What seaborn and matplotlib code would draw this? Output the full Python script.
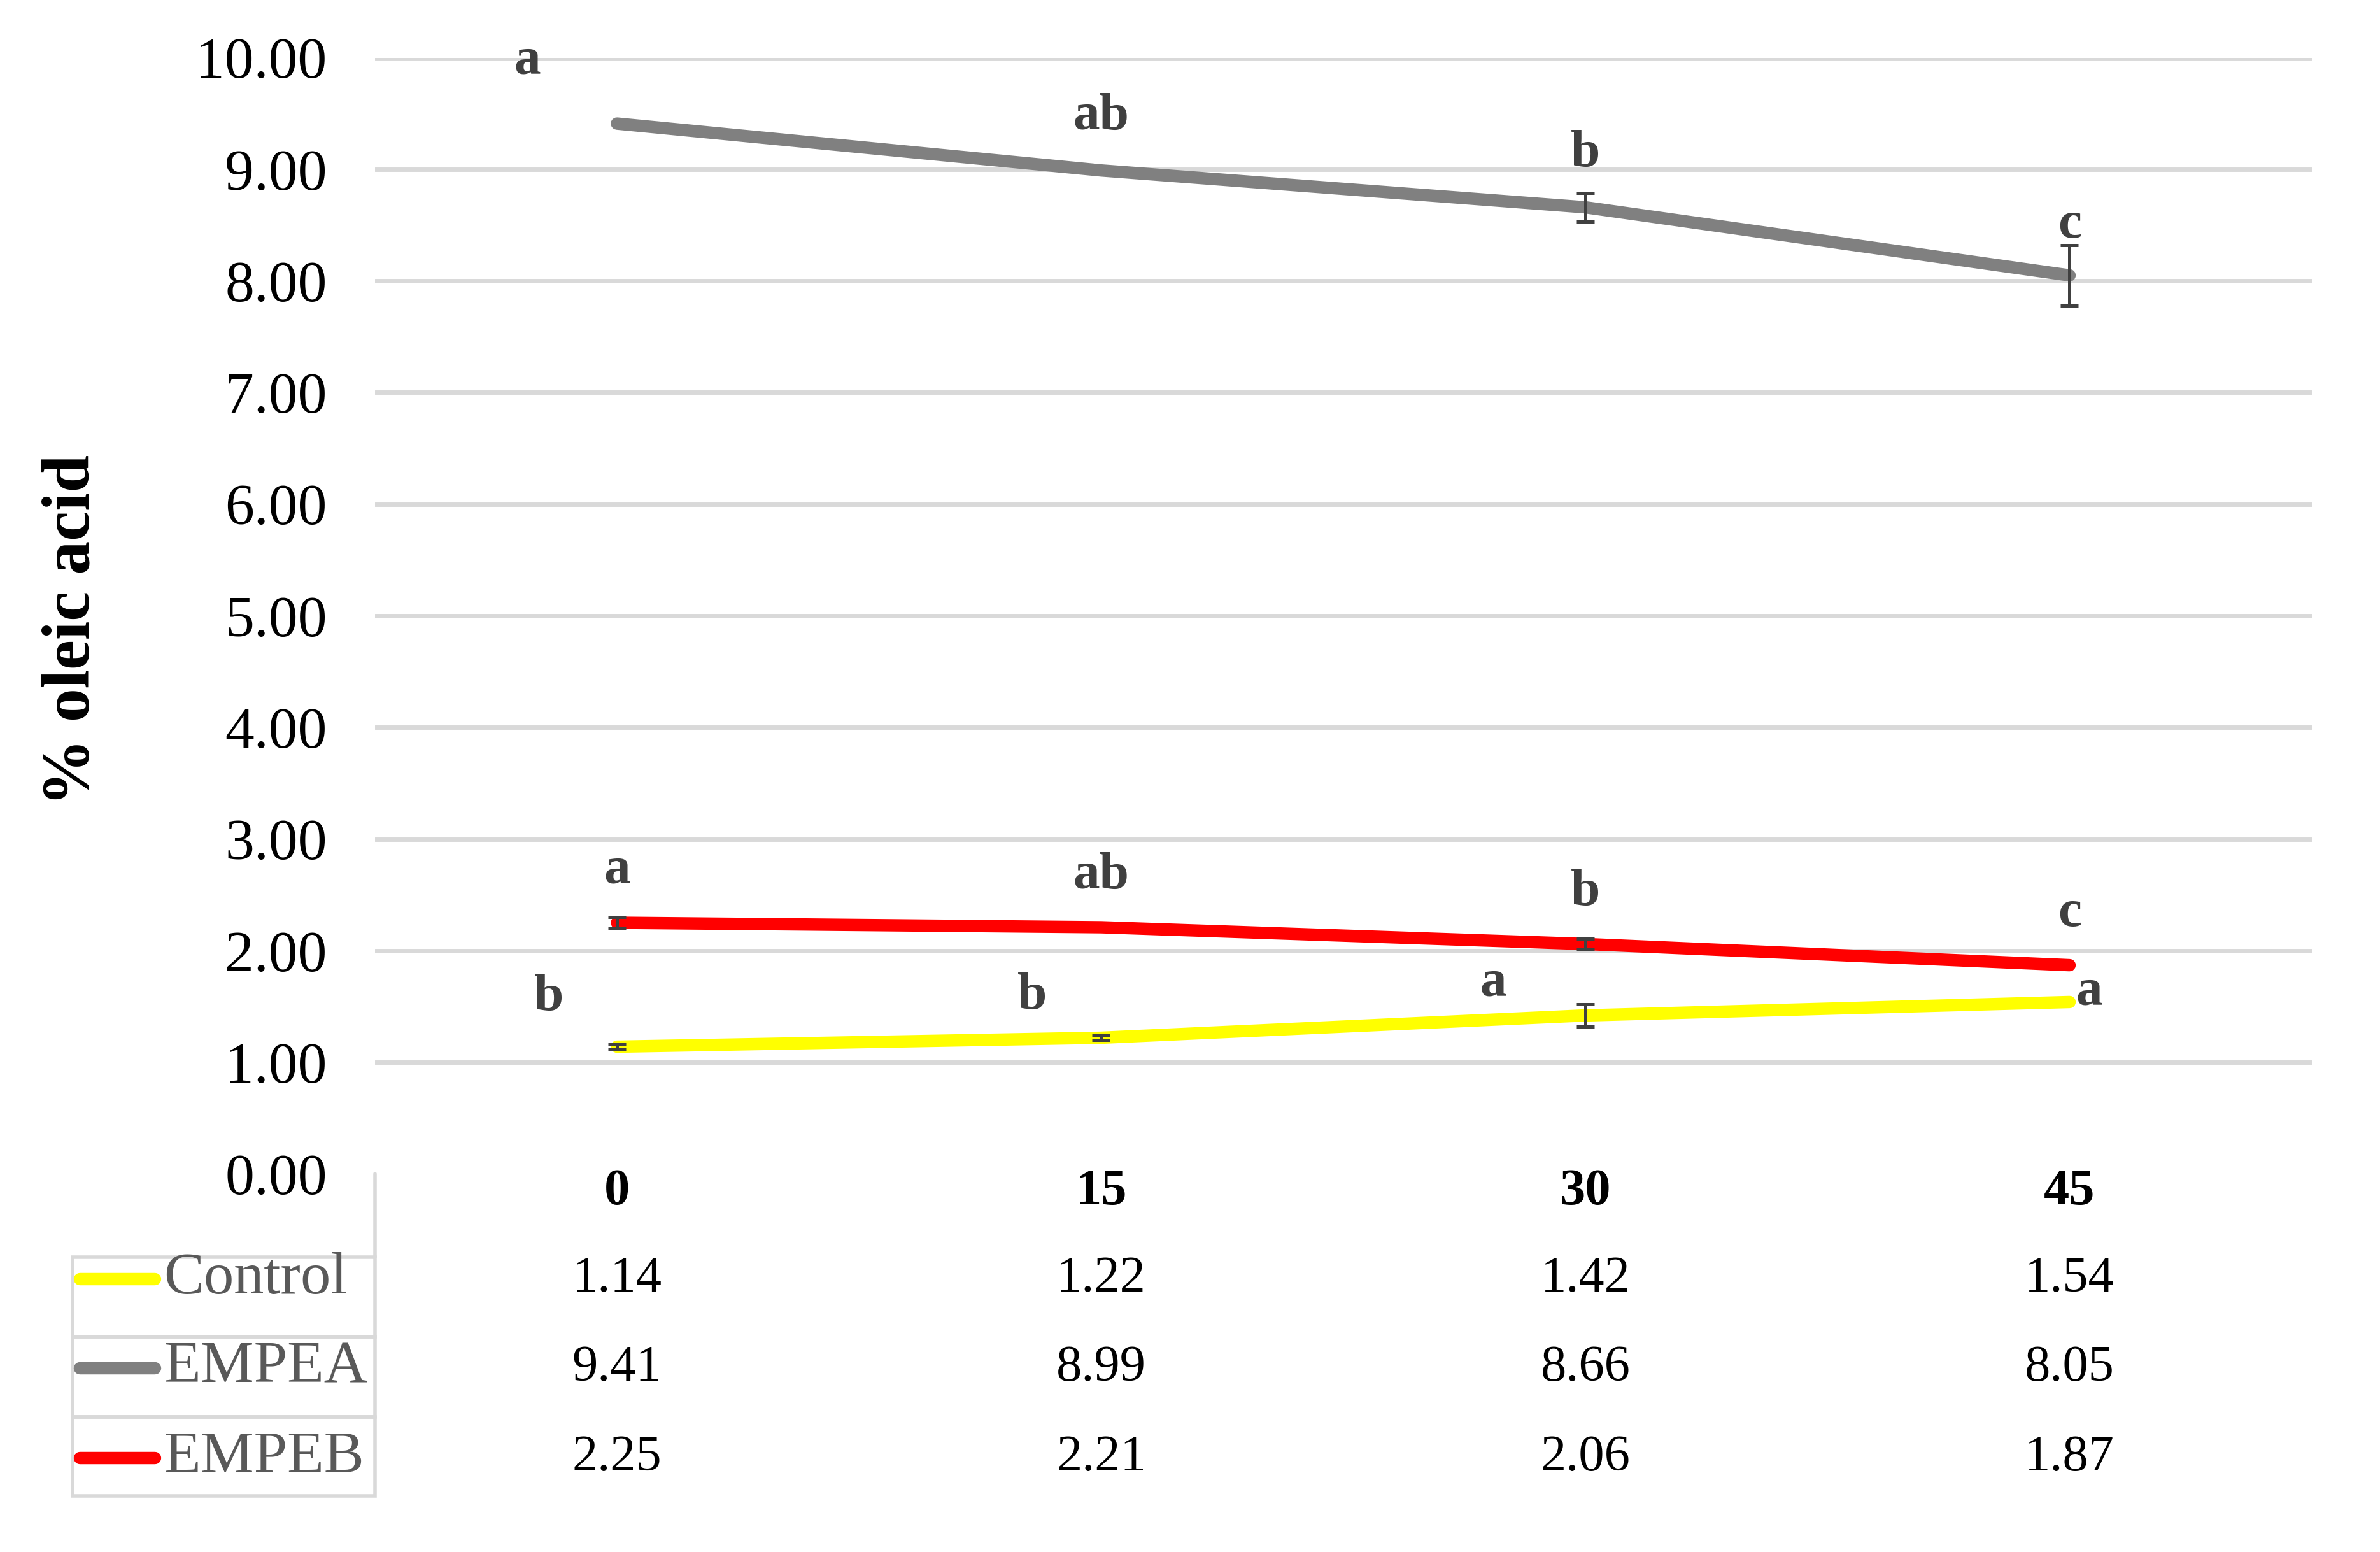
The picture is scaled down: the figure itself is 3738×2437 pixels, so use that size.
import matplotlib
matplotlib.use("Agg")
import matplotlib.pyplot as plt
from matplotlib.lines import Line2D
from matplotlib.patches import Rectangle
from matplotlib.transforms import blended_transform_factory
import numpy as np
import pandas as pd
import seaborn as sns

# storage days (categories) and series values
DAYS = ["0", "15", "30", "45"]
SERIES = ["Control", "EMPEA", "EMPEB"]
CONTROL = [1.14, 1.22, 1.42, 1.54]
EMPEA = [9.41, 8.99, 8.66, 8.05]
EMPEB = [2.25, 2.21, 2.06, 1.87]

# standard deviations (0 = not visible)
CONTROL_ERR = [0.02, 0.02, 0.10, 0.0]
EMPEA_ERR = [0.0, 0.0, 0.13, 0.27]
EMPEB_ERR = [0.05, 0.0, 0.05, 0.0]

# significance letters
CONTROL_LETTERS = ["b", "b", "a", "a"]
EMPEA_LETTERS = ["a", "ab", "b", "c"]
EMPEB_LETTERS = ["a", "ab", "b", "c"]

COLORS = {"Control": "#FFFF00", "EMPEA": "#808080", "EMPEB": "#FF0000"}

# letter offsets (dx in category units, dy in % units)
LETTER_OFFSETS = {
    "Control": [(-0.14, 0.44), (-0.143, 0.37), (-0.19, 0.29), (0.04, 0.09)],
    "EMPEA": [(-0.185, 0.56), (0.0, 0.48), (0.0, 0.48), (0.0, 0.45)],
    "EMPEB": [(0.0, 0.47), (0.0, 0.46), (0.0, 0.46), (0.0, 0.46)],
}

sns.set_theme(style="white")
plt.rcParams["font.family"] = ["Liberation Serif", "DejaVu Serif"]

values = {"Control": CONTROL, "EMPEA": EMPEA, "EMPEB": EMPEB}
errors = {"Control": CONTROL_ERR, "EMPEA": EMPEA_ERR, "EMPEB": EMPEB_ERR}
letters = {"Control": CONTROL_LETTERS, "EMPEA": EMPEA_LETTERS, "EMPEB": EMPEB_LETTERS}

rows = []
for name in SERIES:
    for i, day in enumerate(DAYS):
        rows.append({"pos": i, "day": day, "value": values[name][i], "sd": errors[name][i], "Treatment": name})
df = pd.DataFrame(rows)

fig = plt.figure(figsize=(18.69, 12.185), dpi=200)
ax = fig.add_axes([0.1575, 0.2436, 0.8138, 0.7192])

sns.lineplot(data=df, x="pos", y="value", hue="Treatment", palette=COLORS, hue_order=SERIES,
             linewidth=7, legend=False, sort=False, ax=ax, solid_capstyle="round", zorder=3)

for name in SERIES:
    sub = df[(df["Treatment"] == name) & (df["sd"] > 0)]
    ax.errorbar(sub["pos"], sub["value"], yerr=sub["sd"], fmt="none", ecolor="#404040",
                elinewidth=1.8, capsize=5, capthick=1.8, zorder=4)
    for i, (dx, dy) in enumerate(LETTER_OFFSETS[name]):
        ax.text(i + dx, values[name][i] + dy, letters[name][i], ha="center", va="center",
                fontsize=30, fontweight="bold", color="#404040", zorder=5)

ax.set_xlim(-0.5, 3.5)
ax.set_ylim(0, 10)
ax.set_yticks(np.arange(0, 11, 1))
ax.set_yticklabels([f"{v:.2f}" for v in range(11)], fontsize=33, color="black")
ax.set_xticks(range(len(DAYS)))
ax.set_xticklabels(DAYS, fontsize=29, fontweight="bold", color="black")
ax.tick_params(axis="y", length=0, pad=27)
ax.tick_params(axis="x", length=0, pad=-3)
ax.set_xlabel("")
ax.set_ylabel("")
ax.yaxis.grid(True, color="#D9D9D9", linewidth=2.5)
ax.xaxis.grid(False)
ax.get_ygridlines()[0].set_visible(False)
ax.set_axisbelow(True)
for side in ["top", "right", "bottom", "left"]:
    ax.spines[side].set_visible(False)

fig.text(0.0306, 0.594, "% oleic acid", rotation=90, ha="center", va="center",
         fontsize=38, fontweight="bold", color="black")

# data table below the axes
trans = blended_transform_factory(ax.transData, fig.transFigure)
row_y = [0.176, 0.1184, 0.0607]
cell_edges = [0.1898, 0.1389, 0.0871, 0.0362]
fig.add_artist(Line2D([0.1575, 0.1575], [0.2436, cell_edges[0]], transform=fig.transFigure,
                      color="#D9D9D9", linewidth=2))
for k, name in enumerate(SERIES):
    for i in range(len(DAYS)):
        ax.text(i, row_y[k], f"{values[name][i]:.2f}", transform=trans, ha="center", va="center",
                fontsize=29, color="black", clip_on=False)
    fig.add_artist(Rectangle((0.0306, cell_edges[k + 1]), 0.1269, cell_edges[k] - cell_edges[k + 1],
                             transform=fig.transFigure, fill=False, edgecolor="#D9D9D9", linewidth=2))
    fig.add_artist(Line2D([0.0335, 0.0650], [row_y[k], row_y[k]], transform=fig.transFigure,
                          color=COLORS[name], linewidth=7, solid_capstyle="round"))
    fig.text(0.0689, row_y[k], name, ha="left", va="center", fontsize=34, color="#595959")

fig.savefig("out.png", dpi=200, facecolor="white")
